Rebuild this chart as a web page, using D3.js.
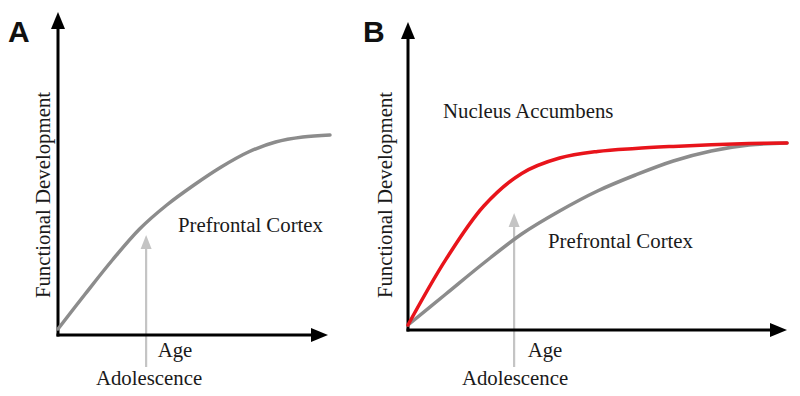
<!DOCTYPE html>
<html>
<head>
<meta charset="utf-8">
<script src="https://cdn.jsdelivr.net/npm/d3@7"></script>
<style>
  html, body { margin: 0; padding: 0; background: #fff; }
  svg { display: block; }
  .lbl { font-family: "Liberation Serif", "Times New Roman", serif; font-size: 20.8px; fill: #1a1a1a; }
  .tag { font-family: "Liberation Sans", Arial, sans-serif; font-size: 30px; font-weight: bold; fill: #111; }
</style>
</head>
<body>
<div id="chart"></div>
<script>
// age, normalised 0..100 along each x axis
const ages = [0, 10, 20, 30, 40, 50, 60, 70, 80, 90, 100];

// panel A: prefrontal cortex only
const pfcA = [3, 20.5, 37.5, 53, 65, 75, 84, 91.5, 96.5, 99, 100];
// panel B: nucleus accumbens vs prefrontal cortex
const naccB = [2.5, 35.3, 62, 78.3, 86, 89.3, 90.8, 91.8, 92.6, 93.2, 93.5];
const pfcB = [2.5, 18, 33.5, 48, 59.5, 69.5, 77.5, 84.5, 89.5, 92.5, 93.5];

// where the adolescence marker sits on the age axis
const adolescenceA = 32.4;
const adolescenceB = 28;

const width = 800, height = 396;

const svg = d3.select('#chart').append('svg')
    .attr('width', width)
    .attr('height', height)
    .attr('viewBox', `0 0 ${width} ${height}`);

const panels = [
    {
        tag: 'A', tagX: 8,
        x0: 58, x1: 330, y0: 335, y1: 135,
        axisTop: 12, axisRight: 328,
        series: [{values: pfcA, color: '#8c8c8c'}],
        marker: adolescenceA, markerFrom: -16, markerTo: 50,
        yLabelX: 50,
        labels: [
            {text: 'Prefrontal Cortex', x: 178, y: 232, anchor: 'start'},
            {text: 'Age', x: 175, y: 357, anchor: 'middle'},
            {text: 'Adolescence', x: 149, y: 385, anchor: 'middle'}
        ]
    },
    {
        tag: 'B', tagX: 363,
        x0: 408, x1: 787, y0: 330, y1: 130,
        axisTop: 22, axisRight: 787,
        series: [
            {values: pfcB, color: '#8c8c8c'},
            {values: naccB, color: '#e8141b'}
        ],
        marker: adolescenceB, markerFrom: -18.5, markerTo: 58.5,
        yLabelX: 392,
        labels: [
            {text: 'Nucleus Accumbens', x: 443, y: 118, anchor: 'start'},
            {text: 'Prefrontal Cortex', x: 548, y: 248, anchor: 'start'},
            {text: 'Age', x: 545, y: 357, anchor: 'middle'},
            {text: 'Adolescence', x: 515, y: 385, anchor: 'middle'}
        ]
    }
];

function arrowHead(g, tipX, tipY, dir, len, half, color) {
    // dir: 'up' or 'right'
    const pts = dir === 'up'
        ? [[tipX, tipY], [tipX - half, tipY + len], [tipX + half, tipY + len]]
        : [[tipX, tipY], [tipX - len, tipY - half], [tipX - len, tipY + half]];
    g.append('path')
        .attr('d', d3.line()(pts) + 'Z')
        .attr('fill', color);
}

panels.forEach(p => {
    const g = svg.append('g');

    const x = d3.scaleLinear().domain([0, 100]).range([p.x0, p.x1]);
    const y = d3.scaleLinear().domain([0, 100]).range([p.y0, p.y1]);

    // adolescence marker (drawn first, axis sits over it)
    const mx = x(p.marker);
    g.append('line')
        .attr('x1', mx).attr('x2', mx)
        .attr('y1', y(p.markerFrom)).attr('y2', y(p.markerTo) + 12)
        .attr('stroke', '#c4c4c4')
        .attr('stroke-width', 2.2);
    arrowHead(g, mx, y(p.markerTo), 'up', 14, 5.5, '#c4c4c4');

    // axes
    g.append('line')
        .attr('x1', p.x0).attr('x2', p.x0)
        .attr('y1', p.y0 + 1.5).attr('y2', p.axisTop + 14)
        .attr('stroke', '#000').attr('stroke-width', 3);
    arrowHead(g, p.x0, p.axisTop, 'up', 17, 7, '#000');

    g.append('line')
        .attr('x1', p.x0 - 1.5).attr('x2', p.axisRight - 14)
        .attr('y1', p.y0).attr('y2', p.y0)
        .attr('stroke', '#000').attr('stroke-width', 3);
    arrowHead(g, p.axisRight, p.y0, 'right', 17, 7, '#000');

    // curves
    const line = d3.line()
        .x((d, i) => x(ages[i]))
        .y(d => y(d))
        .curve(d3.curveCatmullRom.alpha(0.5));

    p.series.forEach(s => {
        g.append('path')
            .datum(s.values)
            .attr('d', line)
            .attr('fill', 'none')
            .attr('stroke', s.color)
            .attr('stroke-width', 3.5)
            .attr('stroke-linecap', 'round');
    });

    // text
    g.append('text')
        .attr('class', 'tag')
        .attr('x', p.tagX)
        .attr('y', 42)
        .text(p.tag);

    g.append('text')
        .attr('class', 'lbl')
        .attr('text-anchor', 'middle')
        .attr('transform', `translate(${p.yLabelX},195) rotate(-90)`)
        .text('Functional Development');

    p.labels.forEach(l => {
        g.append('text')
            .attr('class', 'lbl')
            .attr('x', l.x)
            .attr('y', l.y)
            .attr('text-anchor', l.anchor)
            .text(l.text);
    });
});
</script>
</body>
</html>
